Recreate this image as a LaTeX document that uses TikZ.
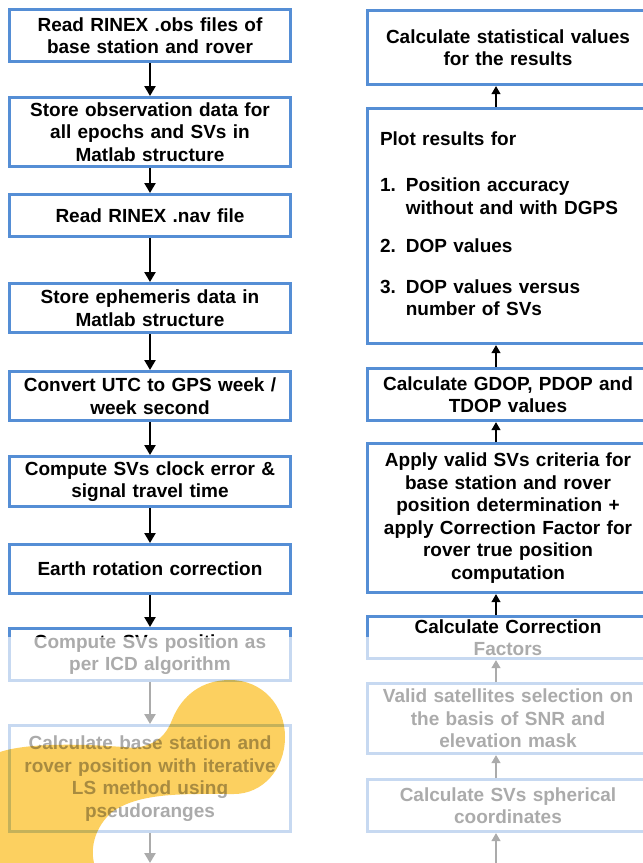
\documentclass[tikz,border=0pt]{standalone}
\usepackage{fontspec}
\setmainfont{Liberation Sans}
\usetikzlibrary{arrows.meta,positioning}

\definecolor{boxblue}{RGB}{85,142,213}
\definecolor{blobyellow}{RGB}{252,208,96}

\begin{document}
\begin{tikzpicture}[x=1pt, y=-1pt, >={Triangle[length=10pt,width=11pt]},
  box/.style={draw=boxblue, line width=3pt, rectangle, fill=white, minimum width=281pt,
    text width=272pt, align=center, inner sep=2pt,
    font=\bfseries\fontsize{19}{22.5}\selectfont},
  flow/.style={->, line width=2.4pt},
  upflow/.style={-{Triangle[length=8pt,width=8.5pt]}, line width=2pt}]
\useasboundingbox (0,0) rectangle (643,863);
\clip (0,0) rectangle (643,863);

% left column
\node[box, minimum height=52pt] (obs) at (150,35.5) {Read RINEX .obs files of\\base station and rover};
\node[box, minimum height=69pt, below=33pt of obs] (storeobs) {Store observation data for\\all epochs and SVs in\\Matlab structure};
\node[box, minimum height=42pt, below=25pt of storeobs] (nav) {Read RINEX .nav file};
\node[box, minimum height=49pt, below=44pt of nav] (storeeph) {Store ephemeris data in\\Matlab structure};
\node[box, minimum height=49pt, below=36pt of storeeph] (utc) {Convert UTC to GPS week /\\week second};
\node[box, minimum height=50pt, below=33pt of utc] (clock) {Compute SVs clock error \&\\signal travel time};
\node[box, minimum height=49pt, below=35pt of clock] (earth) {Earth rotation correction};
\node[box, minimum height=52pt, below=32pt of earth] (svpos) {Compute SVs position as\\per ICD algorithm};
\node[box, minimum height=106pt, below=42pt of svpos] (lsq) {Calculate base station and\\rover position with iterative\\LS method using\\pseudoranges};
\coordinate (lend) at (150,863);

% right column
\node[box, minimum height=74pt] (stat) at (508,47.5) {Calculate statistical values\\for the results};
\node[box, minimum height=235pt, text width=256pt, align=left, below=21pt of stat] (plot) {%
  \begin{tabular}{@{}l@{\hspace{10pt}}l@{}}
  \multicolumn{2}{@{}l}{Plot results for}\\[24pt]
  1. & Position accuracy\\
     & without and with DGPS\\[16pt]
  2. & DOP values\\[18pt]
  3. & DOP values versus\\
     & number of SVs
  \end{tabular}};
\node[box, minimum height=52pt, below=22pt of plot] (dop) {Calculate GDOP, PDOP and\\TDOP values};
\node[box, minimum height=149pt, below=20pt of dop] (valid) {Apply valid SVs criteria for\\base station and rover\\position determination +\\apply Correction Factor for\\rover true position\\computation};
\node[box, minimum height=42pt, below=21pt of valid] (corr) {Calculate Correction\\Factors};
\node[box, minimum height=70pt, below=22pt of corr] (snr) {Valid satellites selection on\\the basis of SNR and\\elevation mask};
\node[box, minimum height=52pt, below=23pt of snr] (sph) {Calculate SVs spherical\\coordinates};
\coordinate (raxis) at (496,0);
\coordinate (rstart) at (496,863);

% arrows
\draw[flow] (obs) -- (storeobs);
\draw[flow] (storeobs) -- (nav);
\draw[flow] (nav) -- (storeeph);
\draw[flow] (storeeph) -- (utc);
\draw[flow] (utc) -- (clock);
\draw[flow] (clock) -- (earth);
\draw[flow] (earth) -- (svpos);
\draw[flow] (svpos) -- (lsq);
\draw[flow] (lsq) -- (lend);

\draw[upflow] (rstart) -- (sph.south -| raxis);
\draw[upflow] (sph.north -| raxis) -- (snr.south -| raxis);
\draw[upflow] (snr.north -| raxis) -- (corr.south -| raxis);
\draw[upflow] (corr.north -| raxis) -- (valid.south -| raxis);
\draw[upflow] (valid.north -| raxis) -- (dop.south -| raxis);
\draw[upflow] (dop.north -| raxis) -- (plot.south -| raxis);
\draw[upflow] (plot.north -| raxis) -- (stat.south -| raxis);

% fade and blob
\fill[white, opacity=0.67] (0,637) rectangle (643,863);
\fill[blobyellow, blend mode=multiply]
  (0,752) .. controls (30,742) and (90,744) .. (135,748)
  .. controls (158,744) and (166,735) .. (172,720)
  .. controls (182,695) and (202,680) .. (230,680)
  .. controls (262,680) and (285,705) .. (285,737)
  .. controls (285,770) and (262,794) .. (234,794)
  .. controls (185,794) and (140,792) .. (112,812)
  .. controls (96,826) and (90,846) .. (94,863)
  -- (0,863) -- cycle;
\end{tikzpicture}
\end{document}
